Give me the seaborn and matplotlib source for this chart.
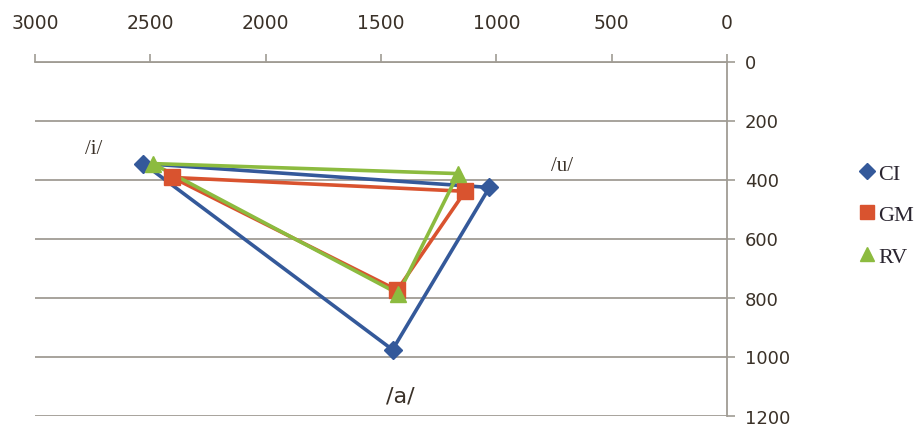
import matplotlib
matplotlib.use("Agg")
import matplotlib.pyplot as plt
from matplotlib.lines import Line2D
import seaborn as sns
import pandas as pd

vowels = ["/i/", "/u/", "/a/"]
speakers = ["CI", "GM", "RV"]
f2_CI = [2530, 1030, 1450]
f1_CI = [346, 427, 977]
f2_GM = [2405, 1135, 1430]
f1_GM = [393, 440, 775]
f2_RV = [2490, 1165, 1425]
f1_RV = [346, 380, 787]
x_ticks = [3000, 2500, 2000, 1500, 1000, 500, 0]
y_ticks = [0, 200, 400, 600, 800, 1000, 1200]

colors = {"CI": "#34599a", "GM": "#d9532f", "RV": "#8cbb3f"}
markers = {"CI": "D", "GM": "s", "RV": "^"}
msizes = {"CI": 9, "GM": 11, "RV": 11}

rows = []
for sp, f2, f1 in [("CI", f2_CI, f1_CI), ("GM", f2_GM, f1_GM), ("RV", f2_RV, f1_RV)]:
    for k in [0, 1, 2, 0]:
        rows.append({"speaker": sp, "vowel": vowels[k], "F2": f2[k], "F1": f1[k]})
df = pd.DataFrame(rows)

sns.set_theme(style="white")
plt.rcParams["font.family"] = ["DejaVu Sans"]

fig = plt.figure(figsize=(9.18, 4.27), dpi=100)
top_px, bot_px = 62.5, 416.5
ax = fig.add_axes([35/918, 1-bot_px/427, (727-35)/918, (bot_px-top_px)/427])

for sp in speakers:
    d = df[df.speaker == sp]
    sns.lineplot(data=d, x="F2", y="F1", sort=False, estimator=None, ax=ax,
                 color=colors[sp], lw=2.6, zorder=3, legend=False)
    pts = d.iloc[:3]
    ax.plot(pts["F2"], pts["F1"], ls="none", marker=markers[sp], ms=msizes[sp],
            color=colors[sp], mec=colors[sp], zorder=4)

ax.set_xlim(3000, 0)
ax.set_ylim(1200, 0)
ax.set_xticks(x_ticks)
ax.set_yticks(y_ticks)
ax.xaxis.tick_top()
ax.yaxis.tick_right()
ax.set_xlabel("")
ax.set_ylabel("")
for sp_name in ["bottom", "left"]:
    ax.spines[sp_name].set_visible(False)
for sp_name in ["top", "right"]:
    ax.spines[sp_name].set_color("#a09c94")
    ax.spines[sp_name].set_linewidth(1.3)
ax.tick_params(axis="x", which="both", top=True, bottom=False, direction="out",
               length=6, width=1.2, color="#a09c94", labelsize=13.5, pad=15,
               labelcolor="#3a3128")
ax.tick_params(axis="y", which="both", right=True, left=False, direction="out",
               length=6, width=1.2, color="#a09c94", labelsize=13, pad=7,
               labelcolor="#3a3128")
ax.yaxis.grid(True, color="#a09c94", lw=1.3)
ax.xaxis.grid(False)
ax.set_axisbelow(True)

ax.text(2748, 295, "/i/", fontsize=15, family="Liberation Serif", color="#3a3128",
        ha="center", va="center")
ax.text(715, 352, "/u/", fontsize=15, family="Liberation Serif", color="#3a3128",
        ha="center", va="center")
ax.text(1417, 1133, "/a/", fontsize=16, family="DejaVu Sans", color="#3a3128",
        ha="center", va="center")

handles = [Line2D([], [], ls="none", marker=markers[s], ms=msizes[s] - 1,
                  color=colors[s], label=s) for s in speakers]
fig.legend(handles=handles, loc="upper left", bbox_to_anchor=(836/918, 1-144/427),
           frameon=False, handletextpad=0.0, labelspacing=0.95, handlelength=1.0,
           prop={"family": "Liberation Serif", "size": 16}, labelcolor="#2a2530")

fig.savefig("out.png", dpi=100)
